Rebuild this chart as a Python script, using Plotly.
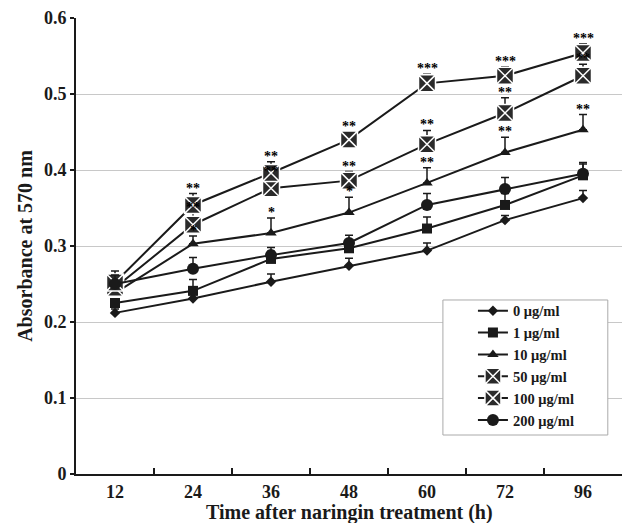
import plotly.graph_objects as go

times = ["12", "24", "36", "48", "60", "72", "96"]
series_names = ["0 μg/ml", "1 μg/ml", "10 μg/ml", "50 μg/ml", "100 μg/ml", "200 μg/ml"]

v0 = [0.212, 0.231, 0.253, 0.274, 0.294, 0.334, 0.363]
v1 = [0.225, 0.241, 0.283, 0.297, 0.323, 0.354, 0.393]
v10 = [0.238, 0.303, 0.317, 0.344, 0.383, 0.423, 0.453]
v50 = [0.245, 0.328, 0.376, 0.386, 0.434, 0.475, 0.524]
v100 = [0.252, 0.354, 0.396, 0.440, 0.514, 0.524, 0.554]
v200 = [0.250, 0.270, 0.288, 0.304, 0.354, 0.375, 0.395]

e0 = [0.005, 0.005, 0.010, 0.010, 0.010, 0.006, 0.010]
e1 = [0.005, 0.015, 0.010, 0.010, 0.015, 0.015, 0.015]
e10 = [0.010, 0.010, 0.020, 0.020, 0.020, 0.020, 0.020]
e50 = [0.010, 0.015, 0.015, 0.012, 0.018, 0.020, 0.015]
e100 = [0.015, 0.015, 0.015, 0.010, 0.012, 0.012, 0.012]
e200 = [0.012, 0.015, 0.010, 0.010, 0.015, 0.015, 0.015]

sig10 = ["", "*", "*", "*", "**", "**", "**"]
sig50 = ["", "**", "**", "**", "**", "**", "**"]
sig100 = ["", "**", "**", "**", "***", "***", "***"]

x_title = "Time after naringin treatment (h)"
y_title = "Absorbance at 570 nm"

values = [v0, v1, v10, v50, v100, v200]
errors = [e0, e1, e10, e50, e100, e200]
symbols = ["diamond", "square", "triangle-up", "square-x", "square-x", "circle"]
sizes = [8, 10, 10, 17, 17, 12]

FONT = "Liberation Serif"
INK = "#1a1a1a"

fig = go.Figure()
for name, v, e, sym, sz in zip(series_names, values, errors, symbols, sizes):
    is_x = sym == "square-x"
    fig.add_trace(go.Scatter(
        x=times, y=v, name="<b>" + name + "</b>", mode="lines+markers",
        line=dict(color=INK, width=2),
        marker=dict(symbol=sym, size=sz, color="#2a2a2a" if is_x else INK,
                    line=dict(color="white" if is_x else INK, width=1.5 if is_x else 0)),
        error_y=dict(type="data", array=e, arrayminus=[0] * len(e), symmetric=False,
                     color=INK, thickness=1.5, width=4),
    ))

annotations = []
for v, e, sig in [(v10, e10, sig10), (v50, e50, sig50), (v100, e100, sig100)]:
    for i, (val, err, s) in enumerate(zip(v, e, sig)):
        if s:
            annotations.append(dict(x=i, xref="x", y=val + err, yref="y", text="<b>" + s + "</b>",
                                    showarrow=False, yanchor="bottom", yshift=-4,
                                    font=dict(family=FONT, size=14, color="#000000")))

annotations.append(dict(x=0.5, xref="paper", y=0, yref="paper", yanchor="top",
                        yshift=-25, text="<b>" + x_title + "</b>", showarrow=False,
                        font=dict(family=FONT, size=20, color=INK)))

fig.update_layout(
    width=625, height=523,
    margin=dict(l=76, r=3, t=18, b=49),
    paper_bgcolor="white", plot_bgcolor="white",
    font=dict(family=FONT, color=INK),
    showlegend=True,
    legend=dict(x=0.727, y=0.393, xanchor="left", yanchor="top",
                bgcolor="rgba(0,0,0,0)", borderwidth=0,
                font=dict(family=FONT, size=14.5, color=INK),
                itemwidth=30, tracegroupgap=0),
    shapes=[dict(type="rect", xref="paper", yref="paper",
                 x0=0.672, x1=0.974, y0=0.0855, y1=0.3816,
                 fillcolor="white", line=dict(color="#aaaaaa", width=1), layer="above")],
    annotations=annotations,
    hovermode=False,
)
fig.update_xaxes(
    type="category", categoryorder="array", categoryarray=times,
    range=[-0.5, len(times) - 0.5],
    tickson="boundaries", ticks="inside", ticklen=6, tickwidth=2,
    tickcolor=INK, showline=True, linecolor=INK, linewidth=2,
    showgrid=False, zeroline=False,
    tickfont=dict(family=FONT, size=18, color=INK),
    tickprefix="<b>", ticksuffix="</b>",
)
fig.update_yaxes(
    range=[0, 0.6], dtick=0.1, ticks="outside", ticklen=4, tickwidth=2,
    tickcolor=INK, showline=True, linecolor=INK, linewidth=2,
    showgrid=True, gridcolor="#c8c8c8", gridwidth=1, zeroline=False,
    tickfont=dict(family=FONT, size=18, color=INK),
    title=dict(text="<b>" + y_title + "</b>",
               font=dict(family=FONT, size=20, color=INK), standoff=6),
    tickprefix="<b>", ticksuffix="</b>",
)

fig.write_html("out.html", config={"displayModeBar": False},
               post_script="document.body.style.margin='0';document.body.style.overflow='hidden';")
